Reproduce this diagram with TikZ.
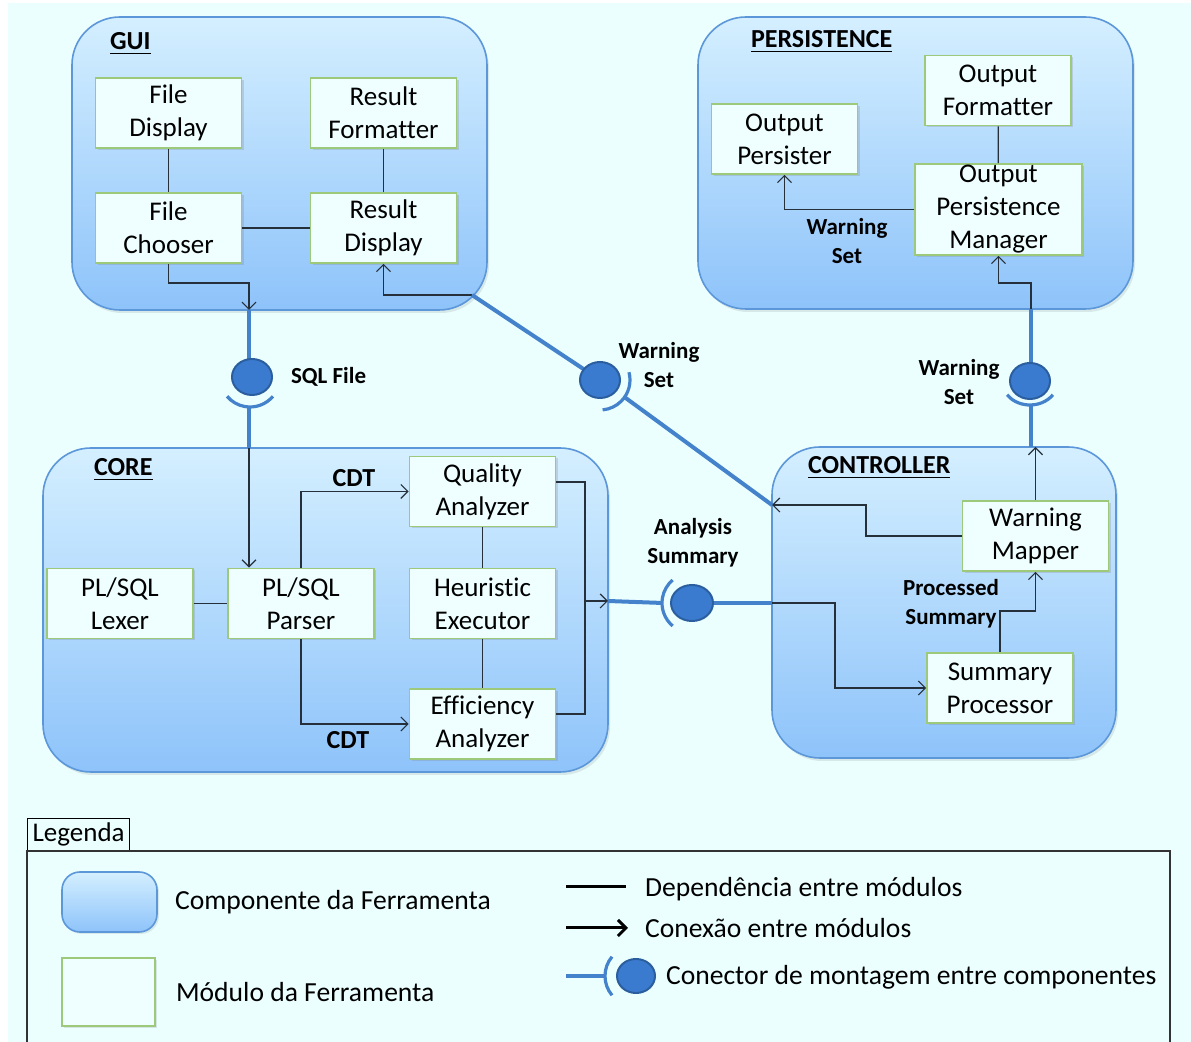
\documentclass[tikz,border=0pt]{standalone}
\usepackage{fontspec}
\setmainfont{Carlito}[Ligatures={NoCommon}]
\usetikzlibrary{arrows.meta,shadows}
\definecolor{bgc}{HTML}{EBFFFF}
\definecolor{compTop}{HTML}{D4EFFF}
\definecolor{compBot}{HTML}{8EC3FA}
\definecolor{compBorder}{HTML}{5C97DA}
\definecolor{modFill}{HTML}{EFFFFF}
\definecolor{modBorder}{HTML}{9CC97A}
\definecolor{blueLine}{HTML}{4483CC}
\definecolor{ballFill}{HTML}{3A7BD0}
\definecolor{ballBorder}{HTML}{2B5E9E}
\definecolor{conn}{HTML}{26303A}
\begin{document}
\begin{tikzpicture}[x=0.5pt,y=-0.5pt,
  comp/.style={draw=compBorder, line width=0.8pt, rounded corners=24pt, top color=compTop, bottom color=compBot,
     drop shadow={opacity=0.18, shadow xshift=1pt, shadow yshift=-1.5pt}},
  module/.style={draw=modBorder, fill=modFill, line width=0.8pt, align=center, inner sep=0pt,
     minimum width=73pt, minimum height=35pt, font=\fontsize{13.5}{16.5}\selectfont,
     drop shadow={opacity=0.25, shadow xshift=1pt, shadow yshift=-1pt}},
  clabel/.style={anchor=base west, font=\fontsize{13}{15}\selectfont\bfseries},
  lbl/.style={align=center, font=\fontsize{11.5}{14.5}\selectfont\bfseries},
  cdt/.style={font=\fontsize{13}{15}\selectfont\bfseries},
  dep/.style={draw=conn, line width=0.6pt},
  arr/.style={draw=conn, line width=0.6pt, -{Straight Barb[length=3.5pt,width=7pt]}},
  bline/.style={draw=blueLine, line width=2pt},
  socket/.style={draw=blueLine, line width=1.6pt},
  ball/.style={fill=ballFill, draw=ballBorder, line width=1pt},
  legtxt/.style={anchor=west, font=\fontsize{13.8}{16}\selectfont}
]
\useasboundingbox (0,0) rectangle (1191,1042);
\clip (0,0) rectangle (1191,1042);
\fill[white] (0,0) rectangle (1191,1042);
\fill[bgc] (8,3) rectangle (1191,1042);

% components
\path[comp] (72,17) rectangle (487,310);
\path[comp] (698,17) rectangle (1133,309);
\path[comp] (43,448) rectangle (608,772);
\path[comp] (772,447) rectangle (1116,758);

\node[clabel] (tgui) at (103,50) {\underline{GUI}};
\node[clabel] (tpers) at (744,48) {\underline{PERSISTENCE}};
\node[clabel] (tcore) at (87,476) {\underline{CORE}};
\node[clabel] (tctrl) at (801,474) {\underline{CONTROLLER}};

% coordinates on component borders
\coordinate (guiS) at (249,310);
\coordinate (coreN) at (249,448);
\coordinate (guiSE) at (472,295);
\coordinate (ctrlWN) at (772,505);
\coordinate (coreE) at (608,601);
\coordinate (ctrlW) at (772,603);
\coordinate (ctrlN) at (1031,447);
\coordinate (persS) at (1031,309);
\coordinate (cjq) at (585,482);
\coordinate (cje) at (585,714);
\coordinate (cj) at (585,601);

% GUI modules
\node[module] (fd) at (168.5,113) {File\\Display};
\node[module] (rf) at (383.5,113) {Result\\Formatter};
\node[module] (fc) at (168.5,228) {File\\Chooser};
\node[module] (rd) at (383.5,228) {Result\\Display};
% PERSISTENCE modules
\node[module] (op) at (784.5,139) {Output\\Persister};
\node[module] (of) at (998,90.5) {Output\\Formatter};
\node[module, minimum width=83.5pt, minimum height=45.5pt] (opm) at (998.5,209.5) {Output\\Persistence\\Manager};
% CORE modules
\node[module] (lex) at (120,603.5) {PL/SQL\\Lexer};
\node[module] (par) at (301,603.5) {PL/SQL\\Parser};
\node[module] (qa) at (482.5,491.5) {Quality\\Analyzer};
\node[module] (he) at (482.5,603.5) {Heuristic\\Executor};
\node[module] (ea) at (482.5,724) {Efficiency\\Analyzer};
% CONTROLLER modules
\node[module] (wm) at (1035.5,536) {Warning\\Mapper};
\node[module] (sp) at (1000,688) {Summary\\Processor};

% GUI connections
\draw[dep] (fd) -- (fc);
\draw[dep] (rf) -- (rd);
\draw[dep] (fc.east) -- (fc.east -| rd.west);
\draw[arr] (fc.south) -- (168.5,283) -| (guiS);
\draw[arr] (guiSE) -| (rd.south);

% PERSISTENCE connections
\draw[dep] (of) -- (opm);
\draw[arr] (opm.west) -| (op.south);
\draw[arr] (persS) -- (1031,283) -| (opm.south);

% CORE connections
\draw[dep] (lex) -- (par);
\draw[arr] (coreN) -- (coreN |- par.north);
\draw[arr] (par.north) |- (qa.west);
\draw[arr] (par.south) |- (ea.west);
\draw[dep] (qa) -- (he);
\draw[dep] (he) -- (ea);
\draw[dep] (qa.east |- cjq) -- (cjq) -- (cje) -- (ea.east |- cje);
\draw[arr] (cj) -- (coreE);

% CONTROLLER connections
\draw[arr] (wm.west) -- (866,536) |- (ctrlWN);
\draw[arr] (ctrlW) -- (835,603) |- (sp.west);
\draw[arr] (sp.north) -- (1000,611) -| (wm.south);
\draw[arr] (wm.north) -- (wm.north |- ctrlN);

% assembly connectors
% SQL File
\draw[bline] (guiS) -- (249,377);
\draw[bline] (249,407) -- (coreN);
\draw[socket] (250,377) ++(40:30) arc[start angle=40, end angle=140, radius=30];
\path[ball] (252,377) ellipse [x radius=20, y radius=18];
\node[lbl, anchor=west] (lsql) at (284,377) {SQL File};

% Warning Set (GUI - CONTROLLER)
\draw[bline] (guiSE) -- (600,380);
\draw[bline] (624.6,397.2) -- (ctrlWN);
\draw[socket] (600,380) ++(-15:30) arc[start angle=-15, end angle=85, radius=30];
\path[ball] (600,380) ellipse [x radius=20, y radius=18];
\node[lbl] (lws1) at (659,365) {Warning\\Set};

% Analysis Summary
\draw[bline] (coreE) -- (663,603);
\draw[bline] (692,603) -- (ctrlW);
\draw[socket] (692,603) ++(130:30) arc[start angle=130, end angle=230, radius=30];
\path[ball] (692,603) ellipse [x radius=21, y radius=18];
\node[lbl] (las) at (693,543) {Analysis\\Summary};

% Warning Set (CONTROLLER - PERSISTENCE)
\draw[bline] (persS) -- (1031,381);
\draw[bline] (1031,405) -- (ctrlN);
\draw[socket] (1030,381) ++(35:28 and 24) arc[start angle=35, end angle=145, x radius=28, y radius=24];
\path[ball] (1030,381) ellipse [x radius=20, y radius=18];
\node[lbl] (lws2) at (959,382) {Warning\\Set};

% other labels
\node[lbl] (lws3) at (847,241) {Warning\\Set};
\node[lbl] (lps) at (951,604) {Processed\\Summary};
\node[cdt] (cdt1) at (354,478) {CDT};
\node[cdt] (cdt2) at (348,740) {CDT};

% legend
\node[draw=black, line width=0.6pt, anchor=north west, minimum width=51pt, minimum height=16pt, inner sep=1pt,
      font=\fontsize{13.5}{16}\selectfont] (leg) at (27,818) {Legenda};
\draw[black!80, line width=0.6pt] (27,1060) -- (27,851) -- (1170,851) -- (1170,1060);
\path[draw=compBorder, line width=0.8pt, rounded corners=9pt, top color=compTop, bottom color=compBot,
      drop shadow={opacity=0.18, shadow xshift=1pt, shadow yshift=-1pt}] (62,872) rectangle (157,932);
\path[draw=modBorder, fill=modFill, line width=0.8pt,
      drop shadow={opacity=0.2, shadow xshift=1pt, shadow yshift=-1pt}] (62,958) rectangle (155,1026);
\node[legtxt] (l1) at (168,902) {Componente da Ferramenta};
\node[legtxt] (l2) at (169,992) {Módulo da Ferramenta};
\draw[black, line width=1.5pt] (566,887) -- (626,887);
\draw[black, line width=1.5pt, -{Straight Barb[length=4pt,width=8pt]}] (566,928) -- (628,928);
\draw[bline] (566,976) -- (605,976);
\draw[socket] (635,976) ++(140:30) arc[start angle=140, end angle=220, radius=30];
\path[ball] (636,976) ellipse [x radius=19, y radius=17];
\node[legtxt] (l3) at (638,889) {Dependência entre módulos};
\node[legtxt] (l4) at (638,928) {Conexão entre módulos};
\node[legtxt] (l5) at (659,977) {Conector de montagem entre componentes};
\end{tikzpicture}
\end{document}
